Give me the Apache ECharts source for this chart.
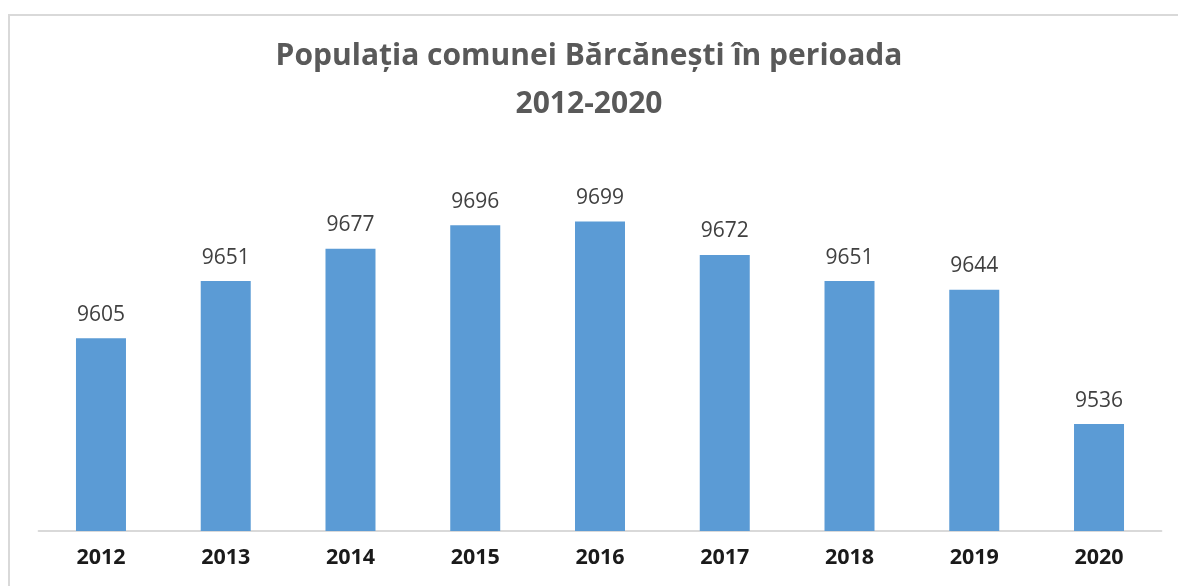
<!DOCTYPE html>
<html>
<head>
<meta charset="utf-8">
<title>Populația comunei Bărcănești</title>
<script src="https://cdn.jsdelivr.net/npm/echarts@6/dist/echarts.min.js"></script>
<style>
html,body{margin:0;padding:0;background:#fff;}
#main{width:1178px;height:586px;}
</style>
</head>
<body>
<div id="main"></div>
<script>
// date
var years = ['2012','2013','2014','2015','2016','2017','2018','2019','2020'];
var population = [9605, 9651, 9677, 9696, 9699, 9672, 9651, 9644, 9536];
var yMin = 9450;
var yMax = 9750;

var myChart = echarts.init(document.getElementById('main'));
var option = {
	animation: false,
	title: {
		text: 'Populația comunei Bărcănești în perioada\n2012-2020',
		left: 'center',
		top: 27,
		textStyle: {
			fontFamily: 'Open Sans',
			fontWeight: 'bold',
			fontSize: 30,
			lineHeight: 48,
			color: '#595959'
		}
	},
	graphic: [{
		type: 'rect',
		shape: {x: 9, y: 15, width: 1200, height: 620},
		style: {fill: 'none', stroke: '#d9d9d9', lineWidth: 2},
		silent: true
	}],
	grid: {left: 38.6, right: 16.6, top: 158, bottom: 55},
	xAxis: {
		type: 'category',
		data: years,
		axisLine: {lineStyle: {color: '#d9d9d9', width: 2}},
		axisTick: {show: false},
		axisLabel: {
			margin: 16,
			fontFamily: 'Open Sans',
			fontWeight: 'bold',
			fontSize: 21.5,
			color: '#1a1a1a'
		}
	},
	yAxis: {
		type: 'value',
		min: yMin,
		max: yMax,
		show: false,
		splitLine: {show: false}
	},
	series: [{
		type: 'bar',
		data: population,
		barWidth: 50,
		itemStyle: {color: '#5b9bd5'},
		label: {
			show: true,
			position: 'top',
			distance: 13,
			fontFamily: 'Open Sans',
			fontSize: 21,
			color: '#404040'
		}
	}]
};
myChart.setOption(option);
</script>
</body>
</html>
